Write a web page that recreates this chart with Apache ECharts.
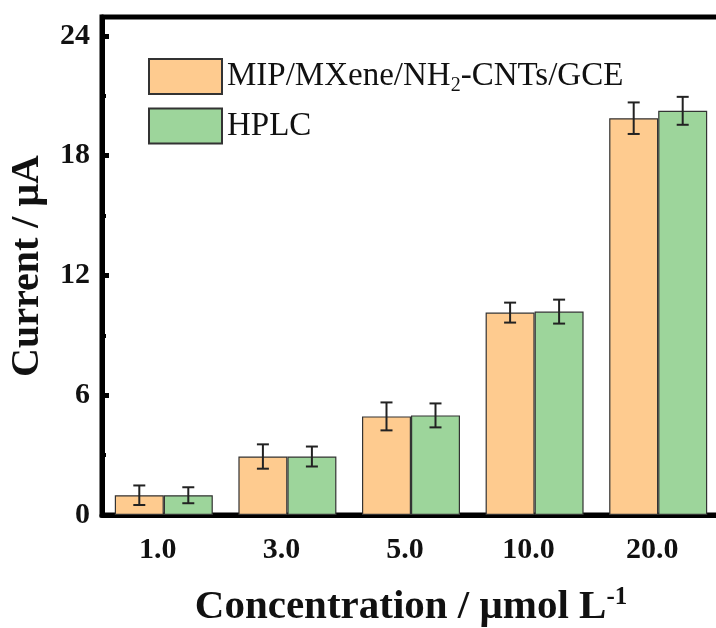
<!DOCTYPE html>
<html>
<head>
<meta charset="utf-8">
<script src="https://cdn.jsdelivr.net/npm/echarts@6/dist/echarts.min.js"></script>
<style>
  html, body { margin: 0; padding: 0; background: #fff; }
  #main { width: 716px; height: 628px; }
</style>
</head>
<body>
<div id="main"></div>
<script>
// data
const categories = ['1.0', '3.0', '5.0', '10.0', '20.0']
const mipValues = [0.99, 2.93, 4.94, 10.14, 19.88]
const mipErrors = [0.49, 0.61, 0.7, 0.5, 0.79]
const hplcValues = [0.99, 2.93, 4.99, 10.19, 20.25]
const hplcErrors = [0.4, 0.5, 0.6, 0.6, 0.7]
const yTicks = [0, 6, 12, 18, 24]
const yMinorTicks = [3, 9, 15, 21]

const chart = echarts.init(document.getElementById('main'))

const serif = 'Liberation Serif'
const BAR_W = 49

// error bars drawn on top of the grouped bars (side -1 = left bar, +1 = right bar)
function errorSeries(values, errors, side) {
  return {
    type: 'custom',
    z: 5,
    silent: true,
    data: values.map((v, i) => [i, v - errors[i], v + errors[i]]),
    renderItem: (params, api) => {
      const lo = api.coord([api.value(0), api.value(1)])
      const hi = api.coord([api.value(0), api.value(2)])
      const x = lo[0] + side * BAR_W / 2
      const cap = 6
      const style = { stroke: '#222', lineWidth: 2 }
      return {
        type: 'group',
        children: [
          { type: 'line', shape: { x1: x, y1: lo[1], x2: x, y2: hi[1] }, style },
          { type: 'line', shape: { x1: x - cap, y1: lo[1], x2: x + cap, y2: lo[1] }, style },
          { type: 'line', shape: { x1: x - cap, y1: hi[1], x2: x + cap, y2: hi[1] }, style }
        ]
      }
    }
  }
}

const option = {
  animation: false,
  grid: {
    left: 102, width: 618, top: 17, bottom: 113,
    outerBoundsMode: 'none',
    show: true, borderColor: '#000', borderWidth: 5
  },
  legend: {
    data: ['MIP/MXene/NH2-CNTs/GCE', 'HPLC'],
    orient: 'vertical',
    left: 143, top: 53,
    itemWidth: 73, itemHeight: 35, itemGap: 12,
    icon: 'rect',
    formatter: name => name === 'HPLC'
      ? '{a|HPLC}'
      : '{a|MIP/MXene/NH}{s|2}{a|-CNTs/GCE}',
    textStyle: {
      rich: {
        a: { fontFamily: serif, fontSize: 33, color: '#111' },
        s: { fontFamily: serif, fontSize: 20, color: '#111', padding: [18, 0, 0, 0] }
      }
    }
  },
  xAxis: [
    {
      type: 'category',
      data: categories,
      axisLine: { lineStyle: { color: '#000', width: 5 } },
      axisTick: { alignWithLabel: true, inside: true, length: 7, lineStyle: { color: '#000', width: 5 } },
      axisLabel: { fontFamily: serif, fontWeight: 'bold', fontSize: 30, color: '#111', margin: 20, padding: [0, 12, 0, 0] },
      name: 'Concentration / μmol L{sup|-1}',
      nameLocation: 'middle',
      nameGap: 70,
      nameTextStyle: {
        fontFamily: serif, fontWeight: 'bold', fontSize: 41, color: '#111',
        rich: { sup: { fontFamily: serif, fontWeight: 'bold', fontSize: 25, color: '#111', padding: [0, 0, 20, 0] } }
      }
    },
    {
      // small marks on the category boundaries
      type: 'category',
      data: categories,
      position: 'bottom',
      axisLine: { show: false },
      axisTick: { inside: true, length: 3, lineStyle: { color: '#000', width: 4 } },
      axisLabel: { show: false }
    }
  ],
  yAxis: [
    {
      type: 'value',
      min: 0, max: 24.95,
      axisLine: { show: true, lineStyle: { color: '#000', width: 5 } },
      axisTick: { show: true, inside: true, length: 7, customValues: yTicks, lineStyle: { color: '#000', width: 5 } },
      axisLabel: { customValues: yTicks, fontFamily: serif, fontWeight: 'bold', fontSize: 30, color: '#111', margin: 12 },
      splitLine: { show: false },
      name: 'Current / μA',
      nameLocation: 'middle',
      nameGap: 54,
      nameTextStyle: { fontFamily: serif, fontWeight: 'bold', fontSize: 40, color: '#111' }
    },
    {
      type: 'value',
      position: 'left',
      min: 0, max: 24.95,
      axisLine: { show: false },
      axisTick: { show: true, inside: true, length: 4, customValues: yMinorTicks, lineStyle: { color: '#000', width: 4 } },
      axisLabel: { show: false },
      splitLine: { show: false }
    }
  ],
  series: [
    {
      name: 'MIP/MXene/NH2-CNTs/GCE',
      type: 'bar',
      barWidth: BAR_W,
      barGap: '0%',
      itemStyle: { color: '#FECB8F', borderColor: '#333', borderWidth: 1.2 },
      data: mipValues
    },
    {
      name: 'HPLC',
      type: 'bar',
      barWidth: BAR_W,
      barGap: '0%',
      itemStyle: { color: '#9DD59B', borderColor: '#333', borderWidth: 1.2 },
      data: hplcValues
    },
    errorSeries(mipValues, mipErrors, -1),
    errorSeries(hplcValues, hplcErrors, 1)
  ]
}

chart.setOption(option)
</script>
</body>
</html>
